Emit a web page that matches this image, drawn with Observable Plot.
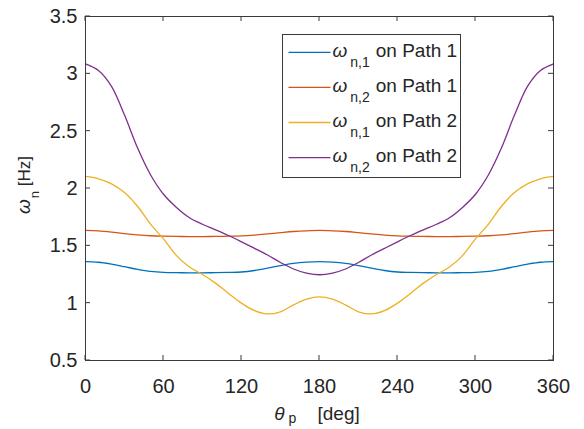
<!DOCTYPE html>
<html>
<head>
<meta charset="utf-8">
<script src="https://cdn.jsdelivr.net/npm/d3@7"></script>
<script src="https://cdn.jsdelivr.net/npm/@observablehq/plot@0.6"></script>
<style>
  html, body { margin: 0; padding: 0; background: white; }
</style>
</head>
<body>
<div id="chart"></div>
<script>
// ---- data ----
const theta = [0,10,20,30,40,50,60,70,80,90,100,110,120,130,140,150,160,170,180,
               190,200,210,220,230,240,250,260,270,280,290,300,310,320,330,340,350,360];

const wn1Path1 = [1.362,1.357,1.340,1.318,1.295,1.277,1.268,1.266,1.265,1.265,1.266,1.268,1.272,1.285,1.305,1.328,1.347,1.358,1.362,
                  1.358,1.347,1.328,1.305,1.285,1.272,1.268,1.266,1.265,1.265,1.266,1.268,1.277,1.295,1.318,1.340,1.357,1.362];
const wn2Path1 = [1.634,1.630,1.620,1.607,1.596,1.588,1.584,1.582,1.581,1.581,1.582,1.584,1.587,1.594,1.604,1.615,1.625,1.631,1.634,
                  1.631,1.625,1.615,1.604,1.594,1.587,1.584,1.582,1.581,1.581,1.582,1.584,1.588,1.596,1.607,1.620,1.630,1.634];
const wn1Path2 = [2.105,2.085,2.040,1.965,1.845,1.690,1.560,1.415,1.315,1.250,1.175,1.085,1.000,0.935,0.906,0.925,0.985,1.035,1.055,
                  1.035,0.985,0.925,0.906,0.935,1.000,1.085,1.175,1.250,1.315,1.415,1.560,1.690,1.845,1.965,2.040,2.085,2.105];
const wn2Path2 = [3.087,3.029,2.890,2.640,2.355,2.120,1.950,1.835,1.745,1.688,1.640,1.590,1.535,1.478,1.420,1.355,1.298,1.262,1.248,
                  1.262,1.298,1.355,1.420,1.478,1.535,1.590,1.640,1.688,1.745,1.835,1.950,2.120,2.355,2.640,2.890,3.029,3.087];

const seriesValues = [wn1Path1, wn2Path1, wn1Path2, wn2Path2];
const seriesColors = ["#0072BD", "#D95319", "#EDB120", "#7E2F8E"];
const legendSub = ["n,1", "n,2", "n,1", "n,2"];
const legendText = ["on Path 1", "on Path 1", "on Path 2", "on Path 2"];

const xTicks = [0, 60, 120, 180, 240, 300, 360];
const yTicks = [0.5, 1, 1.5, 2, 2.5, 3, 3.5];

// ---- build table ----
const rows = [];
seriesValues.forEach((vals, s) => {
  vals.forEach((v, i) => rows.push({theta: theta[i], w: v, s}));
});

const FONT = "'Liberation Sans', Arial, Helvetica, sans-serif";
const TXT = "#262626";
const AX = "#3a3a3a";
const TICK = 5;

const xMin = 0, xMax = 360, yMin = 0.5, yMax = 3.5;

const plot = Plot.plot({
  width: 584,
  height: 429,
  marginLeft: 85,
  marginRight: 31,
  marginTop: 16,
  marginBottom: 69,
  style: {fontFamily: FONT, fontSize: "20px", color: TXT, background: "white", overflow: "visible"},
  x: {domain: [xMin, xMax], label: null},
  y: {domain: [yMin, yMax], label: null},
  marks: [
    ...seriesValues.map((vals, s) =>
      Plot.line(rows.filter(r => r.s === s), {x: "theta", y: "w", stroke: seriesColors[s], strokeWidth: 1.3, curve: "catmull-rom"})
    ),
    Plot.axisX({ticks: xTicks, tickSize: 0, tickPadding: 18, tickFormat: d => String(d), fill: TXT, label: null}),
    Plot.axisY({ticks: yTicks, tickSize: 0, tickPadding: 8, tickFormat: d => String(d), fill: TXT, label: null}),
    Plot.frame({stroke: AX, strokeWidth: 1})
  ]
});

document.getElementById("chart").appendChild(plot);

const svg = d3.select(plot);
const xs = plot.scale("x");
const ys = plot.scale("y");

// inward tick marks on all four sides (MATLAB box style), placed with Plot's scales
const tg = svg.append("g").attr("stroke", AX).attr("stroke-width", 1).attr("fill", "none");
const X0 = xs.apply(xMin), X1 = xs.apply(xMax), Y0 = ys.apply(yMin), Y1 = ys.apply(yMax);
xTicks.forEach(t => {
  const px = xs.apply(t);
  tg.append("line").attr("x1", px).attr("x2", px).attr("y1", Y0).attr("y2", Y0 - TICK);
  tg.append("line").attr("x1", px).attr("x2", px).attr("y1", Y1).attr("y2", Y1 + TICK);
});
yTicks.forEach(t => {
  const py = ys.apply(t);
  tg.append("line").attr("y1", py).attr("y2", py).attr("x1", X0).attr("x2", X0 + TICK);
  tg.append("line").attr("y1", py).attr("y2", py).attr("x1", X1).attr("x2", X1 - TICK);
});

// x-axis label: θ_p   [deg]
const xl = svg.append("text")
  .attr("x", (X0 + X1) / 2 - 2)
  .attr("y", 420)
  .attr("text-anchor", "middle")
  .attr("font-family", FONT)
  .attr("font-size", 19)
  .attr("fill", TXT);
xl.append("tspan").attr("font-style", "italic").text("θ");
xl.append("tspan").attr("font-size", 14).attr("dy", 3).attr("dx", 4).text("p");
xl.append("tspan").attr("dy", -3).text("\u00a0\u00a0\u00a0\u00a0[deg]");

// y-axis label: ω_n [Hz]
const cy = (Y0 + Y1) / 2 - 3;
const yl = svg.append("text")
  .attr("transform", `translate(30,${cy}) rotate(-90)`)
  .attr("text-anchor", "middle")
  .attr("font-family", FONT)
  .attr("font-size", 17)
  .attr("fill", TXT);
yl.append("tspan").attr("font-style", "italic").attr("font-size", 19).text("ω");
yl.append("tspan").attr("font-size", 13).attr("dy", 9).attr("dx", 1).text("n");
yl.append("tspan").attr("dy", -9).text("\u00a0[Hz]");

// legend
const lg = svg.append("g").attr("font-family", FONT).attr("font-size", 19).attr("fill", TXT).attr("text-anchor", "start");
const L = {x: 282.5, y: 34.5, w: 178, h: 143, row0: 52.3, step: 35.1};
lg.append("rect").attr("x", L.x).attr("y", L.y).attr("width", L.w).attr("height", L.h)
  .attr("fill", "white").attr("stroke", AX).attr("stroke-width", 1);
seriesColors.forEach((c, i) => {
  const yy = L.row0 + i * L.step;
  lg.append("line").attr("x1", L.x + 6).attr("x2", L.x + 48).attr("y1", yy).attr("y2", yy)
    .attr("stroke", c).attr("stroke-width", 1.3);
  const t = lg.append("text").attr("x", L.x + 50).attr("y", yy + 4.5).attr("text-anchor", "start");
  t.append("tspan").attr("font-style", "italic").text("ω");
  t.append("tspan").attr("font-size", 14).attr("dy", 10).attr("dx", 3).text(legendSub[i]);
  t.append("tspan").attr("dy", -10).attr("dx", 6).text(legendText[i]);
});
</script>
</body>
</html>
